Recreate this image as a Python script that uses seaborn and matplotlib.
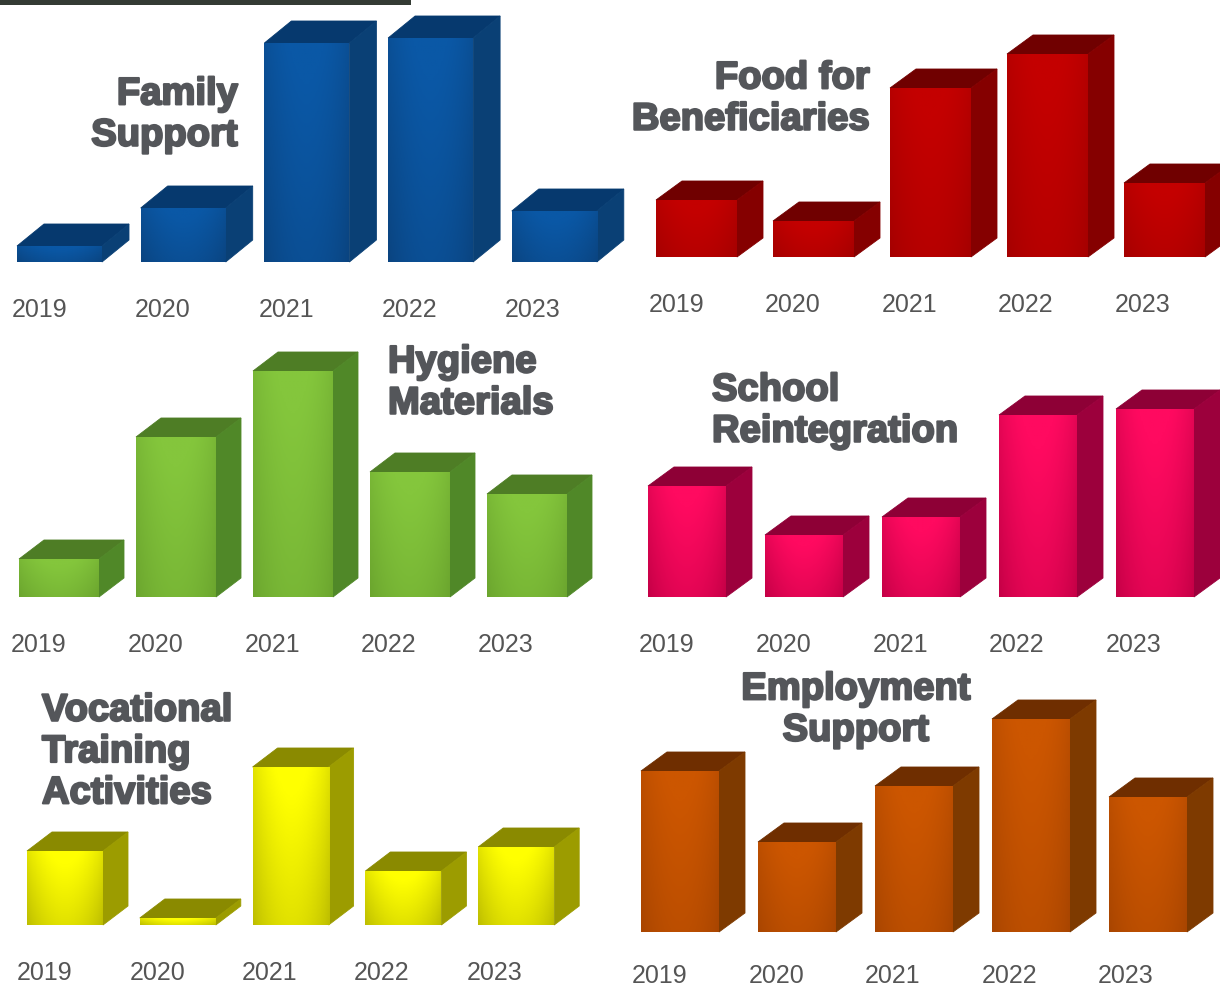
import numpy as np
import pandas as pd
import matplotlib
matplotlib.use("Agg")
import matplotlib.pyplot as plt
from matplotlib.colors import LinearSegmentedColormap
from matplotlib.patches import Polygon, Rectangle
import matplotlib.patheffects as pe
from matplotlib.transforms import ScaledTranslation
import seaborn as sns

years = ["2019", "2020", "2021", "2022", "2023"]
family_support = [16, 54, 219, 224, 51]
food_for_beneficiaries = [57, 36, 169, 203, 74]
hygiene_materials = [38, 160, 226, 125, 103]
school_reintegration = [111, 62, 80, 182, 188]
vocational_training = [74, 7, 158, 54, 78]
employment_support = [161, 90, 146, 213, 135]

W, H = 1220, 987
sns.set_theme(style="white")
plt.rcParams["font.family"] = ["Liberation Sans", "DejaVu Sans"]
fig = plt.figure(figsize=(W / 100, H / 100), dpi=100, facecolor="white")

panels = [
    dict(vals=family_support, x0=17, step=123.7, w=85, base=263, dx=27, dy=22, lab=-0.3, pad=25,
         cols=("#0a4480", "#0a58a6", "#06396e", "#0a4075"),
         title="Family\nSupport", tx=238, ty=116, ha="right", ma="right"),
    dict(vals=food_for_beneficiaries, x0=656, step=117, w=81, base=258, dx=26, dy=19, lab=-0.5, pad=25,
         cols=("#a50000", "#c40000", "#700000", "#850000"),
         title="Food for\nBeneficiaries", tx=870, ty=100, ha="right", ma="right"),
    dict(vals=hygiene_materials, x0=19, step=117, w=80, base=598, dx=25, dy=19, lab=-0.4, pad=25,
         cols=("#6ba52e", "#84c63c", "#4e7d25", "#508828"),
         title="Hygiene\nMaterials", tx=388, ty=384, ha="left", ma="left"),
    dict(vals=school_reintegration, x0=648, step=117, w=78, base=598, dx=26, dy=19, lab=-0.4, pad=25,
         cols=("#c40046", "#ff0a60", "#8e0036", "#9c003c"),
         title="School\nReintegration", tx=712, ty=412, ha="left", ma="left"),
    dict(vals=vocational_training, x0=27, step=112.8, w=76, base=926, dx=25, dy=19, lab=-0.5, pad=25,
         cols=("#bdbd00", "#ffff00", "#8a8a00", "#9c9c00"),
         title="Vocational\nTraining\nActivities", tx=42, ty=753, ha="left", ma="left"),
    dict(vals=employment_support, x0=641, step=117, w=78, base=933, dx=26, dy=19, lab=-0.5, pad=22.5,
         cols=("#a84500", "#cc5600", "#6f2e00", "#7e3a00"),
         title="Employment\nSupport", tx=856, ty=711, ha="center", ma="center"),
]

# dark strip along the top edge
fig.add_artist(Rectangle((0, 1 - 6 / H), 411 / W, 6 / H, transform=fig.transFigure,
                         facecolor="#343b34", edgecolor="none"))

for p in panels:
    step = p["step"]
    centre0 = p["x0"] + p["w"] / 2
    left = centre0 - step / 2
    top_h = 300
    ax = fig.add_axes([left / W, (H - p["base"]) / H, 5 * step / W, top_h / H])
    ax.patch.set_alpha(0)
    df = pd.DataFrame({"year": years, "value": p["vals"]})
    sns.barplot(data=df, x="year", y="value", ax=ax, color=p["cols"][0], saturation=1,
                width=p["w"] / step, errorbar=None)
    ax.set_xlim(-0.5, 4.5)
    ax.set_ylim(0, top_h)
    ax.set_xlabel("")
    ax.set_ylabel("")
    ax.set_yticks([])
    sns.despine(ax=ax, left=True, bottom=True, top=True, right=True)

    dx = p["dx"] / step
    dy = p["dy"]
    cmap = LinearSegmentedColormap.from_list("f", [p["cols"][0], p["cols"][1]])
    gx, gy = np.meshgrid(np.linspace(0, 1, 60), np.linspace(1, 0, 120))
    grad = np.clip(0.55 * np.sin(np.pi * gx) ** 0.8 + 0.55 * gy, 0, 1)
    for bar in list(ax.patches):
        x, w, h = bar.get_x(), bar.get_width(), bar.get_height()
        ax.add_patch(Polygon([(x, h), (x + dx, h + dy), (x + w + dx, h + dy), (x + w, h)],
                             closed=True, facecolor=p["cols"][2], edgecolor=p["cols"][2],
                             linewidth=0.6, clip_on=False, zorder=3))
        ax.add_patch(Polygon([(x + w, 0), (x + w + dx, dy), (x + w + dx, h + dy), (x + w, h)],
                             closed=True, facecolor=p["cols"][3], edgecolor=p["cols"][3],
                             linewidth=0.6, clip_on=False, zorder=3))
        im = ax.imshow(grad, extent=(x, x + w, 0, h), cmap=cmap, vmin=0, vmax=1,
                       aspect="auto", zorder=4)
        im.set_clip_path(bar)
    ax.set_xlim(-0.5, 4.5)
    ax.set_ylim(0, top_h)

    ax.tick_params(axis="x", length=0, pad=p["pad"], labelsize=18, labelcolor="#555555")
    for i, lab in enumerate(ax.get_xticklabels()):
        shift = ScaledTranslation((-20 + p["lab"] * i) / 100, 0, fig.dpi_scale_trans)
        lab.set_transform(lab.get_transform() + shift)

    fig.text(p["tx"] / W, 1 - p["ty"] / H, p["title"], ha=p["ha"], va="center",
             multialignment=p["ma"], fontsize=27.5, fontweight="bold", color="#54565a",
             linespacing=1.19,
             path_effects=[pe.withStroke(linewidth=1.6, foreground="#54565a")])

fig.savefig("out.png", dpi=100, facecolor="white")
